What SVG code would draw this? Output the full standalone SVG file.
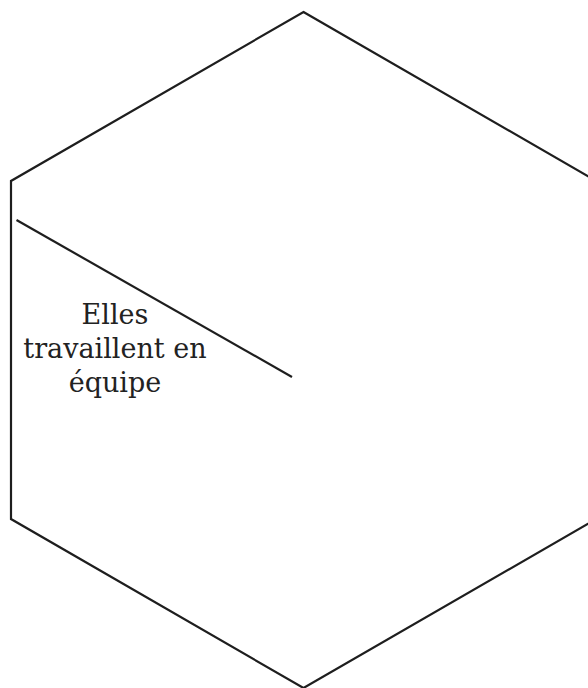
<svg xmlns="http://www.w3.org/2000/svg" width="588" height="688" viewBox="0 0 588 688">
<style>
.edge{fill:none;stroke:#1e1e1e;stroke-width:2.2;stroke-linejoin:miter}
.lbl{font-family:"DejaVu Serif","Liberation Serif",serif;font-size:27px;fill:#222;text-anchor:middle}
</style>
<rect width="588" height="688" fill="#ffffff"/>
<g id="hexagon">
<polygon class="edge" points="303.5,12 596.2,181 596.2,519 303.5,688 11,519 11,181"/>
</g>
<g id="connectors">
<line class="edge" x1="16.5" y1="220" x2="292" y2="377"/>
</g>
<g id="label">
<text class="lbl" x="115" y="324">Elles</text>
<text class="lbl" x="115" y="358">travaillent en</text>
<text class="lbl" x="115" y="392">équipe</text>
</g>
</svg>
